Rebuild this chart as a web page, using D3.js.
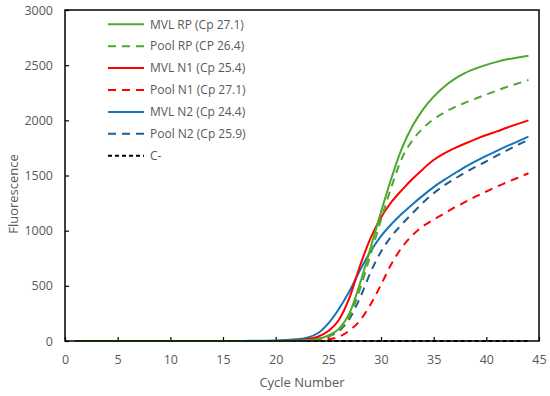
<html>
<head>
<meta charset="utf-8">
<script src="https://d3js.org/d3.v7.min.js"></script>
<style>
  body { margin: 0; background: #fff; }
  text { font-family: "Open Sans", "Noto Sans", sans-serif; fill: #595959; }
</style>
</head>
<body>
<svg width="550" height="396"></svg>
<script>
// cycles 1..44
const cycles = d3.range(1, 45);

const mvlRP  = [0,0,0,0,0,0,0,0,0,0, 0,0,0,0,0,0,0,0,0,0, 1,2,6,18,50,110,250,520,840,1170, 1480,1750,1950,2100,2215,2305,2375,2430,2470,2503, 2530,2553,2570,2586];
const poolRP = [0,0,0,0,0,0,0,0,0,0, 0,0,0,0,0,0,0,0,0,0, 1,2,5,14,40,100,220,470,780,1100, 1400,1660,1820,1930,2010,2070,2120,2160,2198,2235, 2270,2305,2335,2365];
const mvlN1  = [0,0,0,0,0,0,0,0,0,0, 0,0,0,0,0,0,0,0,0,1, 3,7,16,38,90,190,390,680,930,1120, 1260,1370,1470,1560,1640,1700,1748,1790,1830,1867, 1900,1935,1968,2000];
const poolN1 = [0,0,0,0,0,0,0,0,0,0, 0,0,0,0,0,0,0,0,0,0, 0,1,3,6,15,38,95,185,330,510, 700,850,960,1040,1100,1155,1210,1260,1310,1355, 1400,1440,1480,1520];
const mvlN2  = [0,0,0,0,0,0,0,0,0,1, 1,1,1,1,1,1,1,2,3,5, 9,16,30,70,160,290,450,640,810,950, 1060,1155,1240,1320,1395,1460,1520,1578,1630,1678, 1724,1768,1810,1852];
const poolN2 = [0,0,0,0,0,0,0,0,0,0, 0,0,0,0,0,0,0,0,0,0, 2,5,10,20,42,90,200,390,620,810, 950,1060,1160,1255,1340,1410,1470,1528,1580,1628, 1680,1730,1778,1822];
const negC   = cycles.map(() => 0);

const seriesNames = ["MVL RP (Cp 27.1)", "Pool RP (CP 26.4)", "MVL N1 (Cp 25.4)", "Pool N1 (Cp 27.1)", "MVL N2 (Cp 24.4)", "Pool N2 (Cp 25.9)", "C-"];
const seriesValues = [mvlRP, poolRP, mvlN1, poolN1, mvlN2, poolN2, negC];
const colors = ["#4EA72E", "#4EA72E", "#FF0000", "#FF0000", "#1473BA", "#1F5C8F", "#000000"];
const dashes = [null, "8,6", null, "8,6", null, "8,6", "4,3"];

const xTicks = [0, 5, 10, 15, 20, 25, 30, 35, 40, 45];
const yTicks = [0, 500, 1000, 1500, 2000, 2500, 3000];

const svg = d3.select("svg");
const mLeft = 65, mRight = 539, mTop = 10, mBottom = 341;

const x = d3.scaleLinear().domain([0, 45]).range([mLeft, mRight]);
const y = d3.scaleLinear().domain([0, 3000]).range([mBottom, mTop]);

// axes with inward ticks
const gx = svg.append("g")
  .attr("transform", `translate(0,${mBottom})`)
  .call(d3.axisBottom(x).tickValues(xTicks).tickFormat(d3.format("d"))
    .tickSizeInner(-4).tickSizeOuter(0).tickPadding(14));
const gy = svg.append("g")
  .attr("transform", `translate(${mLeft},0)`)
  .call(d3.axisLeft(y).tickValues(yTicks).tickFormat(d3.format("d"))
    .tickSizeInner(-4).tickSizeOuter(0).tickPadding(12));
[gx, gy].forEach(g => {
  g.select(".domain").remove();
  g.selectAll(".tick line").attr("stroke", "#000").attr("stroke-width", 1.2);
  g.selectAll(".tick text").attr("font-size", 12.5).attr("fill", "#595959");
});

// curves
const line = d3.line()
  .x((d, i) => x(cycles[i]))
  .y(d => y(d))
  .curve(d3.curveMonotoneX);

const order = [6, 5, 4, 3, 2, 1, 0];
order.forEach(k => {
  svg.append("path")
    .attr("d", line(seriesValues[k]))
    .attr("fill", "none")
    .attr("stroke", colors[k])
    .attr("stroke-width", 2)
    .attr("stroke-dasharray", dashes[k]);
});

// frame
svg.append("rect")
  .attr("x", mLeft).attr("y", mTop)
  .attr("width", mRight - mLeft).attr("height", mBottom - mTop)
  .attr("fill", "none").attr("stroke", "#000").attr("stroke-width", 1.5);

// legend
const lg = svg.append("g");
seriesNames.forEach((name, i) => {
  const ly = 24.3 + i * 21.9;
  lg.append("line")
    .attr("x1", 108).attr("x2", 144)
    .attr("y1", ly).attr("y2", ly)
    .attr("stroke", colors[i]).attr("stroke-width", 2)
    .attr("stroke-dasharray", dashes[i]);
  lg.append("text")
    .attr("x", 150).attr("y", ly)
    .attr("dy", "0.35em")
    .attr("font-size", 12)
    .text(name);
});

// axis titles
svg.append("text")
  .attr("x", (mLeft + mRight) / 2).attr("y", 382)
  .attr("dy", "0.35em")
  .attr("text-anchor", "middle")
  .attr("font-size", 13)
  .text("Cycle Number");
svg.append("text")
  .attr("transform", "translate(13,194) rotate(-90)")
  .attr("dy", "0.35em")
  .attr("text-anchor", "middle")
  .attr("font-size", 13)
  .text("Fluorescence");
</script>
</body>
</html>
